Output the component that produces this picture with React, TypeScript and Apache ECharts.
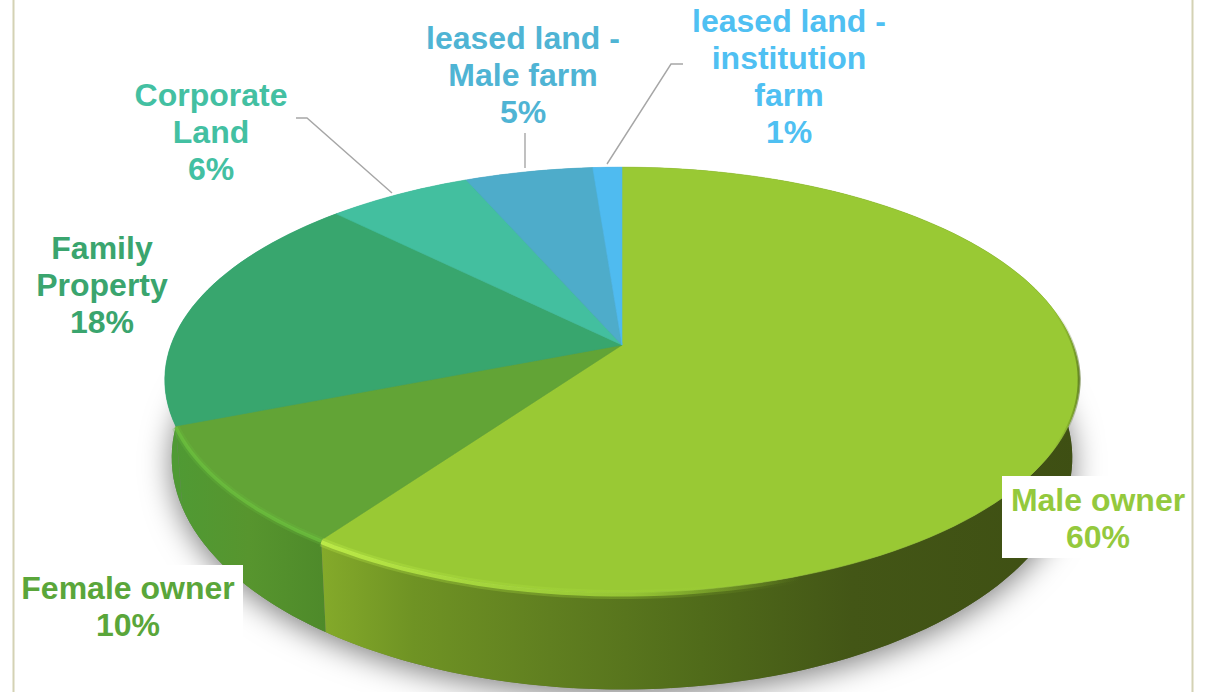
import React, { useEffect, useRef } from "react";
import * as echarts from "echarts";

const sliceNames = ["Male owner", "Female owner", "Family\nProperty", "Corporate\nLand", "leased land -\nMale farm", "leased land -\ninstitution\nfarm"];
const labelPercents = [60, 10, 18, 6, 5, 1];
const drawnShares = [59.8, 9.2, 18.5, 6, 5.3, 1.2];
const topColors = ["#99c934", "#62a436", "#38a66e", "#43bf9f", "#4eacca", "#4fbbf0"];
const labelColors = ["#94c93d", "#5aa63a", "#3aa56e", "#43c0a2", "#4fb4d4", "#4fc0f2"];
const labelCentres = [[1098, 518], [128, 606], [102, 285], [211, 132], [523, 75], [789, 76]];
const labelBoxes = [[1002, 476, 186, 82], [16, 565, 227, 80], null, null, null, null];
const leaders = [null, null, null, [[296, 118], [307, 118], [392, 193]], [[525, 133], [525, 168]], [[683, 64], [671, 64], [607, 164]]];

const CX = 622, CY = 345, A = 451, B = 207, K = 0.164;
const starts: number[] = [];
drawnShares.reduce((s, v, i) => { starts[i] = s; return s + v; }, 0);
const total = drawnShares.reduce((a, b) => a + b, 0);

function top(p: number) {
  const t = (2 * Math.PI * p) / total;
  const u = Math.sin(t), v = -Math.cos(t), w = 1 - K * v;
  return [CX + (A * u) / w, CY + (B * v) / w];
}
function bottom(p: number) {
  const [x, y] = top(p);
  return [CX + (x - CX) * 0.985, y * 1.09 + 43.6];
}
function arc(fn: (p: number) => number[], a: number, b: number) {
  const n = Math.max(4, Math.ceil((b - a) * 2));
  const out: number[][] = [];
  for (let i = 0; i <= n; i++) out.push(fn(a + ((b - a) * i) / n));
  return out;
}
const grad = (x: number, x2: number, stops: [number, string][]) => ({
  type: "linear", x, y: 0, x2, y2: 0, global: true,
  colorStops: stops.map(([offset, color]) => ({ offset, color })),
});
const gradY = (y: number, y2: number, stops: [number, string][]) => ({
  type: "linear", x: 0, y, x2: 0, y2, global: true,
  colorStops: stops.map(([offset, color]) => ({ offset, color })),
});
const sideFills = [
  grad(322, 1080, [[0, "#84aa2a"], [0.12, "#6f9324"], [0.3, "#607f20"], [0.5, "#506b1a"], [0.7, "#435616"], [1, "#3e4f13"]]),
  grad(172, 325, [[0, "#4f9a34"], [0.5, "#57952e"], [1, "#4e8a2a"]]),
  gradY(400, 700, [[0, "#2aa088"], [0.07, "#2aa088"], [0.1, "#4f9a34"], [1, "#4f9a34"]]),
  "#2f9f80", "#3f90a8", "#3f98c8",
];

export default function App() {
  const ref = useRef<HTMLDivElement>(null);
  useEffect(() => {
    document.body.style.margin = "0";
    const chart = echarts.init(ref.current!, null, { renderer: "svg" });
    const data = drawnShares.map((v, i) => [starts[i], v, labelPercents[i]]);
    const rim = (a: number, b: number, color: any, width: number, opacity: number, dy = 0) => ({
      type: "polyline",
      shape: { points: arc(top, a, b).map(([x, y]) => [x, y + dy]) },
      style: { stroke: color, lineWidth: width, fill: null, opacity },
      silent: true,
    });
    chart.setOption({
      animation: false,
      backgroundColor: "#ffffff",
      graphic: [
        { type: "line", shape: { x1: 13.5, y1: 0, x2: 13.5, y2: 692 }, style: { stroke: "#d4d2b4", lineWidth: 2 } },
        { type: "line", shape: { x1: 1192.5, y1: 0, x2: 1192.5, y2: 692 }, style: { stroke: "#d4d2b4", lineWidth: 2 } },
      ],
      series: [
        {
          type: "custom",
          coordinateSystem: "none",
          data,
          z: 2,
          renderItem: (params: any, api: any) => {
            const i = params.dataIndex;
            const a = api.value(0), b = a + api.value(1);
            const children: any[] = [];
            if (i === 0) {
              children.push({
                type: "polygon",
                z2: -1,
                shape: { points: arc(bottom, 0, total) },
                style: { fill: "#777", shadowBlur: 30, shadowColor: "rgba(0,0,0,0.5)", shadowOffsetX: 0, shadowOffsetY: 6 },
              });
            }
            children.push({
              type: "polygon",
              z2: 10 - i,
              shape: { points: [...arc(top, a, b), ...arc(bottom, a, b).reverse()] },
              style: { fill: sideFills[i] },
            });
            return { type: "group", children };
          },
        },
        {
          type: "custom",
          coordinateSystem: "none",
          data,
          z: 3,
          renderItem: (params: any, api: any) => {
            const i = params.dataIndex;
            const a = api.value(0), b = a + api.value(1);
            const fill = topColors[i];
            return {
              type: "polygon",
              shape: { points: [[CX, CY], ...arc(top, a, b)] },
              style: { fill, stroke: fill, lineWidth: 0.6 },
            };
          },
        },
        {
          type: "custom",
          coordinateSystem: "none",
          data: [[0]],
          z: 4,
          silent: true,
          renderItem: () => {
            const end0 = starts[1], end1 = starts[2];
            const stroke = grad(322, 800, [[0, "#c8f84e"], [0.3, "#b4e844"], [0.65, "#a4d83a"], [1, "rgba(153,201,52,0)"]]);
            const shade = gradY(310, 450, [[0, "rgba(79,106,26,0)"], [0.5, "#4f6a1a"], [1, "rgba(79,106,26,0)"]]);
            return {
              type: "group",
              children: [
                rim(end0 - 22, end0, stroke, 9, 0.25, 2),
                rim(end0 - 22, end0, stroke, 4, 0.75, 2),
                rim(end0, end1, "#6cc03e", 8, 0.25, 1),
                rim(end0, end1, "#6cc03e", 3.5, 0.75, 1),
                rim(18, 36, shade, 3, 0.7),
              ],
            };
          },
        },
        {
          type: "custom",
          coordinateSystem: "none",
          data,
          z: 5,
          renderItem: (params: any, api: any) => {
            const i = params.dataIndex;
            const [lx, ly] = labelCentres[i];
            const box = labelBoxes[i];
            const line = leaders[i];
            const children: any[] = [];
            if (box) children.push({ type: "rect", shape: { x: box[0], y: box[1], width: box[2], height: box[3] }, style: { fill: "#ffffff" } });
            if (line) children.push({ type: "polyline", shape: { points: line }, style: { stroke: "#a6a6a6", lineWidth: 1.4, fill: null } });
            children.push({
              type: "text",
              x: lx,
              y: ly,
              style: {
                text: `${sliceNames[i]}\n${api.value(2)}%`,
                fill: labelColors[i],
                font: "bold 32px 'Liberation Sans', Arial, sans-serif",
                lineHeight: 37,
                align: "center",
                verticalAlign: "middle",
              },
            });
            return { type: "group", children };
          },
        },
      ],
    });
    return () => chart.dispose();
  }, []);
  return <div ref={ref} style={{ position: "absolute", left: 0, top: 0, width: 1208, height: 692 }} />;
}
